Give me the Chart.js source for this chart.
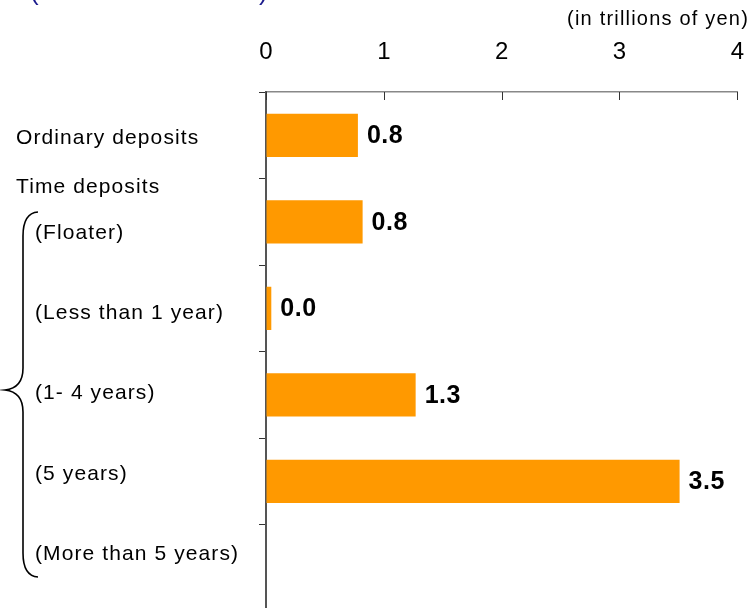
<!DOCTYPE html>
<html>
<head>
<meta charset="utf-8">
<script src="https://cdn.jsdelivr.net/npm/chart.js@4"></script>
<style>
  html, body { margin: 0; padding: 0; background: #fff; overflow: hidden; }
  #wrap { width: 750px; height: 608px; overflow: hidden; }
</style>
</head>
<body>
<div id="wrap"><canvas id="depositChart" width="769" height="611"></canvas></div>
<script>
// Breakdown of deposits (in trillions of yen)
const categories = ['Ordinary deposits', '(Floater)', '(Less than 1 year)', '(1- 4 years)', '(5 years)', '(More than 5 years)'];
const amounts = [0.78, 0.82, 0.045, 1.27, 3.51, null];
const xTicks = [0, 1, 2, 3, 4];
const groupLabel = 'Time deposits';
const unitLabel = '(in trillions of yen)';

const FONT = '"Liberation Sans", Arial, sans-serif';

// draws left-hand labels, brace, inward x ticks and value labels
const decorations = {
    id: 'decorations',
    afterDraw(chart) {
        const ctx = chart.ctx;
        const x = chart.scales.x;
        const y = chart.scales.y;
        const area = chart.chartArea;
        const pitch = y.getPixelForTick(1) - y.getPixelForTick(0);

        ctx.save();

        // inward tick marks on the top axis
        ctx.strokeStyle = '#333';
        ctx.lineWidth = 1;
        xTicks.forEach(v => {
            const px = Math.round(x.getPixelForValue(v)) + 0.5;
            ctx.beginPath();
            ctx.moveTo(px, area.top);
            ctx.lineTo(px, area.top + 8);
            ctx.stroke();
        });

        // value labels next to the bars
        ctx.fillStyle = '#000';
        ctx.font = 'bold 25px ' + FONT;
        ctx.letterSpacing = '0.5px';
        ctx.textBaseline = 'middle';
        ctx.textAlign = 'left';
        const meta = chart.getDatasetMeta(0);
        meta.data.forEach((bar, i) => {
            if (amounts[i] == null) return;
            ctx.fillText(amounts[i].toFixed(1), bar.x + 9, bar.y + 1);
        });

        // category labels on the left
        ctx.font = '21px ' + FONT;
        ctx.letterSpacing = '1.1px';
        categories.forEach((label, i) => {
            let py;
            if (i === 0) py = y.getPixelForTick(0) + 3;
            else py = y.getPixelForTick(1) + 11 + (i - 1) * pitch * 0.93;
            const px = label.startsWith('(') ? 35 : 16;
            ctx.fillText(label, px, py);
        });
        ctx.fillText(groupLabel, 16, y.getPixelForTick(0) + pitch * 0.6);

        // unit label
        ctx.font = '20px ' + FONT;
        ctx.letterSpacing = '1.2px';
        ctx.textAlign = 'right';
        ctx.fillText(unitLabel, 749, 19);

        // clipped title parentheses
        ctx.letterSpacing = '0px';
        ctx.fillStyle = '#1a1a8c';
        ctx.font = '26px ' + FONT;
        ctx.textAlign = 'left';
        ctx.textBaseline = 'alphabetic';
        ctx.fillText('(', 30, 0);
        ctx.fillText(')', 259, 0);

        // curly brace grouping the time deposits
        ctx.strokeStyle = '#000';
        ctx.lineWidth = 1.6;
        ctx.beginPath();
        ctx.moveTo(38, 212);
        ctx.quadraticCurveTo(23, 213, 23, 236);
        ctx.lineTo(23, 368);
        ctx.quadraticCurveTo(23, 388, 5, 390);
        ctx.quadraticCurveTo(23, 392, 23, 412);
        ctx.lineTo(23, 553);
        ctx.quadraticCurveTo(23, 576, 38, 577);
        ctx.stroke();

        ctx.restore();
    }
};

new Chart(document.getElementById('depositChart'), {
    type: 'bar',
    data: {
        labels: categories,
        datasets: [{
            data: amounts,
            backgroundColor: '#ff9900',
            borderWidth: 0,
            barPercentage: 1,
            categoryPercentage: 0.5
        }]
    },
    options: {
        indexAxis: 'y',
        responsive: false,
        animation: false,
        devicePixelRatio: 1,
        layout: { autoPadding: false, padding: { top: 0, right: 13, bottom: 0, left: 0 } },
        plugins: {
            legend: { display: false },
            tooltip: { enabled: false }
        },
        scales: {
            x: {
                position: 'top',
                min: 0,
                max: 4,
                afterBuildTicks: s => { s.ticks = xTicks.map(v => ({ value: v })); },
                afterFit: s => { s.height = 92; },
                ticks: {
                    color: '#000',
                    font: { family: FONT, size: 24 },
                    padding: 25
                },
                grid: { display: true, drawOnChartArea: false, drawTicks: false },
                border: { display: true, color: '#888', width: 1.5 }
            },
            y: {
                afterFit: s => { s.width = 266; },
                ticks: { display: false },
                grid: {
                    display: true,
                    offset: true,
                    drawOnChartArea: false,
                    drawTicks: true,
                    tickLength: 7,
                    tickColor: '#333',
                    tickWidth: 1
                },
                border: { display: true, color: '#555', width: 2 }
            }
        }
    },
    plugins: [decorations]
});
</script>
</body>
</html>
